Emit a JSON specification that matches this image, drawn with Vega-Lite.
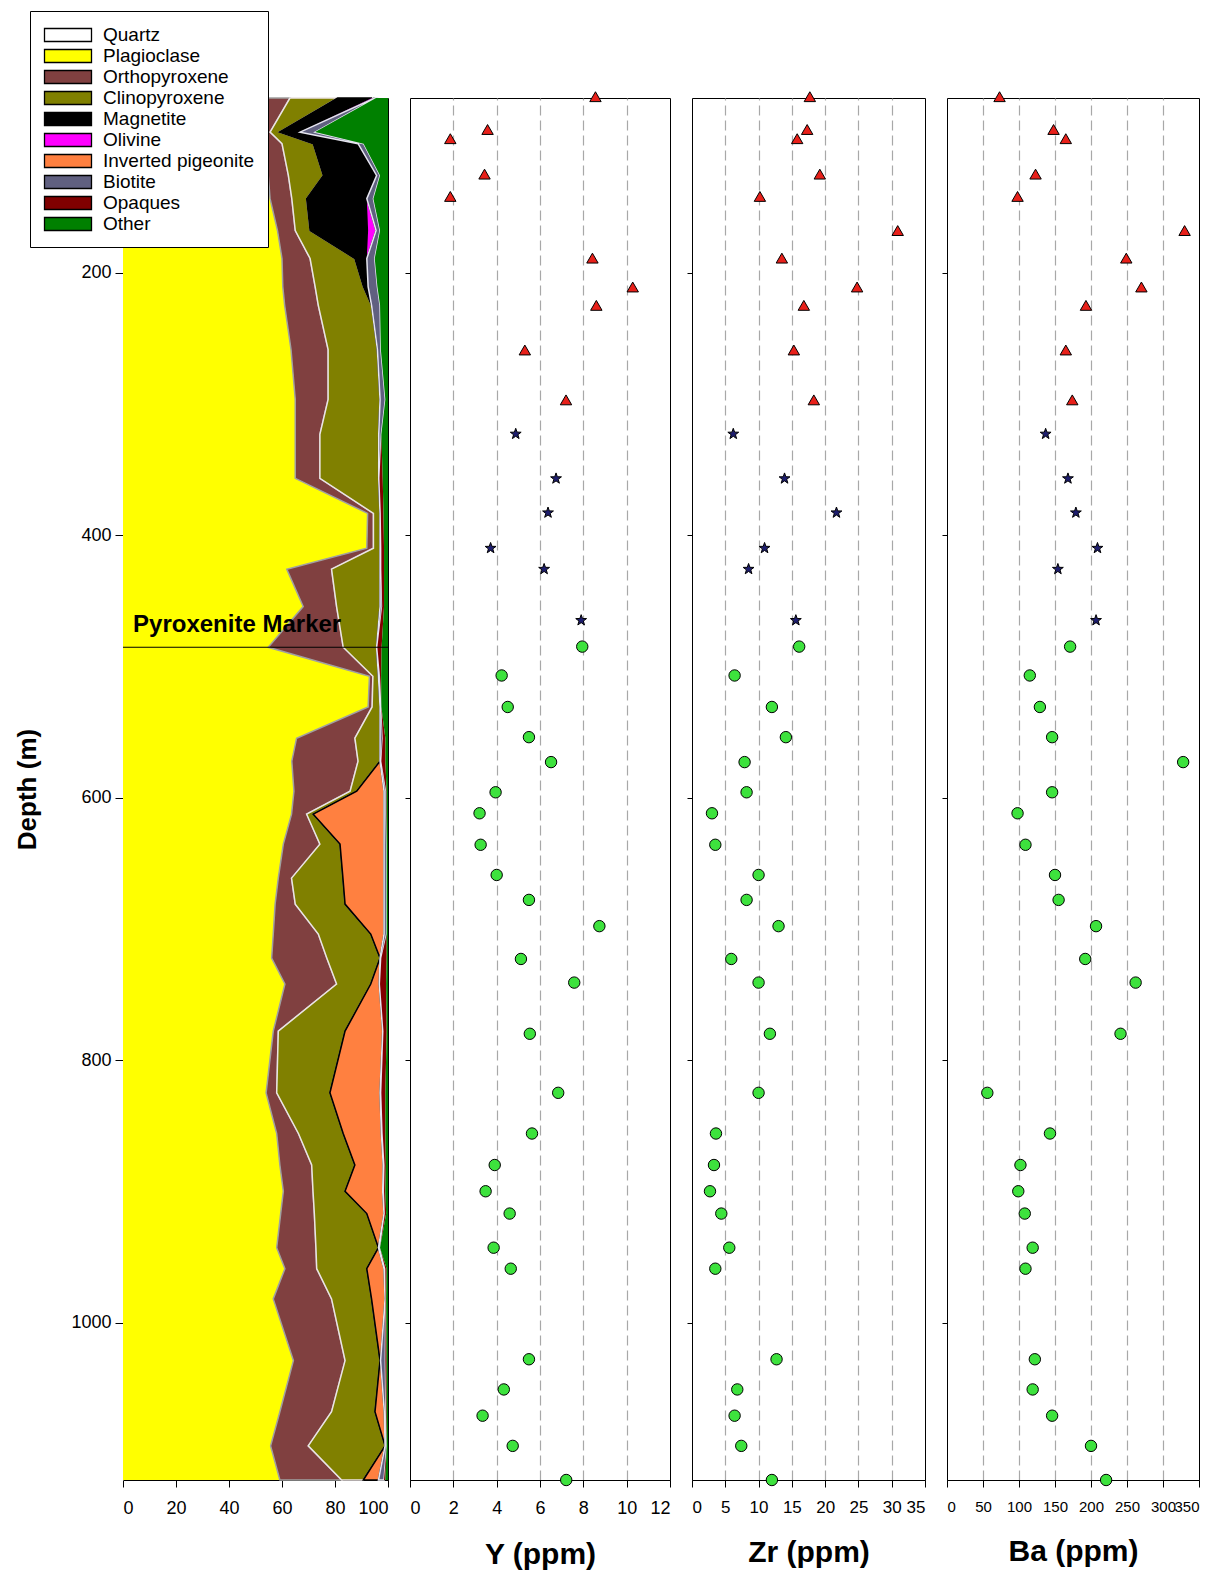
{
  "$schema": "https://vega.github.io/schema/vega-lite/v6.json",
  "padding": {"left": 14, "top": 10, "right": 5, "bottom": 5},
  "config": {
    "font": "Liberation Sans",
    "view": {"stroke": "black", "strokeWidth": 1},
    "axis": {
      "domainColor": "black", "tickColor": "black", "labelColor": "black", "titleColor": "black",
      "labelFont": "Liberation Sans", "labelFontSize": 18, "labelOverlap": false,
      "titleFont": "Liberation Sans", "titleFontWeight": "bold"
    }
  },
  "datasets": {
    "geochem": [
      {"d": 66, "Y": 8.56, "Zr": 17.7, "Ba": 73, "g": "t"},
      {"d": 91, "Y": 3.58, "Zr": 17.3, "Ba": 148, "g": "t"},
      {"d": 98, "Y": 1.86, "Zr": 15.8, "Ba": 165, "g": "t"},
      {"d": 125, "Y": 3.44, "Zr": 19.2, "Ba": 123, "g": "t"},
      {"d": 142, "Y": 1.86, "Zr": 10.2, "Ba": 98, "g": "t"},
      {"d": 168, "Y": null, "Zr": 30.9, "Ba": 330, "g": "t"},
      {"d": 189, "Y": 8.42, "Zr": 13.5, "Ba": 249, "g": "t"},
      {"d": 211, "Y": 10.28, "Zr": 24.8, "Ba": 270, "g": "t"},
      {"d": 225, "Y": 8.6, "Zr": 16.8, "Ba": 193, "g": "t"},
      {"d": 259, "Y": 5.3, "Zr": 15.3, "Ba": 165, "g": "t"},
      {"d": 297, "Y": 7.2, "Zr": 18.3, "Ba": 174, "g": "t"},
      {"d": 323, "Y": 4.88, "Zr": 6.2, "Ba": 137, "g": "s"},
      {"d": 357, "Y": 6.74, "Zr": 13.9, "Ba": 168, "g": "s"},
      {"d": 383, "Y": 6.37, "Zr": 21.7, "Ba": 179, "g": "s"},
      {"d": 410, "Y": 3.72, "Zr": 10.9, "Ba": 209, "g": "s"},
      {"d": 426, "Y": 6.19, "Zr": 8.5, "Ba": 154, "g": "s"},
      {"d": 465, "Y": 7.9, "Zr": 15.6, "Ba": 207, "g": "s"},
      {"d": 485, "Y": 7.95, "Zr": 16.1, "Ba": 171, "g": "c"},
      {"d": 507, "Y": 4.23, "Zr": 6.4, "Ba": 115, "g": "c"},
      {"d": 531, "Y": 4.51, "Zr": 12.0, "Ba": 129, "g": "c"},
      {"d": 554, "Y": 5.49, "Zr": 14.1, "Ba": 146, "g": "c"},
      {"d": 573, "Y": 6.51, "Zr": 7.9, "Ba": 328, "g": "c"},
      {"d": 596, "Y": 3.95, "Zr": 8.2, "Ba": 146, "g": "c"},
      {"d": 612, "Y": 3.21, "Zr": 3.0, "Ba": 98, "g": "c"},
      {"d": 636, "Y": 3.26, "Zr": 3.5, "Ba": 109, "g": "c"},
      {"d": 659, "Y": 4.0, "Zr": 10.0, "Ba": 150, "g": "c"},
      {"d": 678, "Y": 5.49, "Zr": 8.2, "Ba": 155, "g": "c"},
      {"d": 698, "Y": 8.74, "Zr": 13.0, "Ba": 207, "g": "c"},
      {"d": 723, "Y": 5.12, "Zr": 5.9, "Ba": 192, "g": "c"},
      {"d": 741, "Y": 7.58, "Zr": 10.0, "Ba": 262, "g": "c"},
      {"d": 780, "Y": 5.53, "Zr": 11.7, "Ba": 241, "g": "c"},
      {"d": 825, "Y": 6.84, "Zr": 10.0, "Ba": 56, "g": "c"},
      {"d": 856, "Y": 5.63, "Zr": 3.6, "Ba": 143, "g": "c"},
      {"d": 880, "Y": 3.91, "Zr": 3.3, "Ba": 102, "g": "c"},
      {"d": 900, "Y": 3.49, "Zr": 2.7, "Ba": 99, "g": "c"},
      {"d": 917, "Y": 4.6, "Zr": 4.4, "Ba": 108, "g": "c"},
      {"d": 943, "Y": 3.86, "Zr": 5.6, "Ba": 119, "g": "c"},
      {"d": 959, "Y": 4.65, "Zr": 3.5, "Ba": 109, "g": "c"},
      {"d": 1028, "Y": 5.49, "Zr": 12.7, "Ba": 122, "g": "c"},
      {"d": 1051, "Y": 4.33, "Zr": 6.8, "Ba": 119, "g": "c"},
      {"d": 1071, "Y": 3.35, "Zr": 6.4, "Ba": 146, "g": "c"},
      {"d": 1094, "Y": 4.74, "Zr": 7.4, "Ba": 200, "g": "c"},
      {"d": 1120, "Y": 7.21, "Zr": 12.0, "Ba": 221, "g": "c"}
    ],
    "mineralogy": [
      {"d": 67, "Plagioclase": 53.6, "Orthopyroxene": 9.4, "Clinopyroxene": 18, "Magnetite": 13, "Olivine": 1, "Inverted pigeonite": 0, "Biotite": 0.5, "Opaques": 0, "Other": 4.5},
      {"d": 93, "Plagioclase": 52.3, "Orthopyroxene": 3.2, "Clinopyroxene": 3.5, "Magnetite": 7.8, "Olivine": 0, "Inverted pigeonite": 0, "Biotite": 5.7, "Opaques": 0, "Other": 27.5},
      {"d": 101.8, "Plagioclase": 52.8, "Orthopyroxene": 7.2, "Clinopyroxene": 11.8, "Magnetite": 16.9, "Olivine": 0, "Inverted pigeonite": 0, "Biotite": 2.1, "Opaques": 0, "Other": 9.2},
      {"d": 126, "Plagioclase": 54.8, "Orthopyroxene": 7.6, "Clinopyroxene": 13.2, "Magnetite": 20.1, "Olivine": 0, "Inverted pigeonite": 0, "Biotite": 1.3, "Opaques": 0, "Other": 3},
      {"d": 143.7, "Plagioclase": 55.5, "Orthopyroxene": 8.2, "Clinopyroxene": 5.6, "Magnetite": 22.7, "Olivine": 0, "Inverted pigeonite": 0, "Biotite": 2.5, "Opaques": 0, "Other": 5.5},
      {"d": 168, "Plagioclase": 58.3, "Orthopyroxene": 6.7, "Clinopyroxene": 5.6, "Magnetite": 21.9, "Olivine": 3, "Inverted pigeonite": 0, "Biotite": 1.5, "Opaques": 0, "Other": 3},
      {"d": 189.3, "Plagioclase": 60, "Orthopyroxene": 10.6, "Clinopyroxene": 16.9, "Magnetite": 4.5, "Olivine": 0, "Inverted pigeonite": 0, "Biotite": 3, "Opaques": 0, "Other": 5},
      {"d": 210.7, "Plagioclase": 60.3, "Orthopyroxene": 12.2, "Clinopyroxene": 18.2, "Magnetite": 1.8, "Olivine": 0, "Inverted pigeonite": 0, "Biotite": 3.5, "Opaques": 0, "Other": 4},
      {"d": 225, "Plagioclase": 61, "Orthopyroxene": 12.7, "Clinopyroxene": 20.1, "Magnetite": 0, "Olivine": 0, "Inverted pigeonite": 0, "Biotite": 3.2, "Opaques": 0, "Other": 3},
      {"d": 258.6, "Plagioclase": 63.4, "Orthopyroxene": 14, "Clinopyroxene": 18.6, "Magnetite": 0, "Olivine": 0, "Inverted pigeonite": 0, "Biotite": 1.3, "Opaques": 0, "Other": 2.7},
      {"d": 296.7, "Plagioclase": 65, "Orthopyroxene": 12.4, "Clinopyroxene": 19.6, "Magnetite": 0, "Olivine": 0, "Inverted pigeonite": 0, "Biotite": 2, "Opaques": 0, "Other": 1},
      {"d": 323.3, "Plagioclase": 65, "Orthopyroxene": 9.3, "Clinopyroxene": 22.2, "Magnetite": 0, "Olivine": 0, "Inverted pigeonite": 0, "Biotite": 1, "Opaques": 0, "Other": 2.5},
      {"d": 356.8, "Plagioclase": 65, "Orthopyroxene": 9.3, "Clinopyroxene": 22.2, "Magnetite": 0, "Olivine": 0, "Inverted pigeonite": 0, "Biotite": 0.3, "Opaques": 1.2, "Other": 2},
      {"d": 383.5, "Plagioclase": 92.3, "Orthopyroxene": 2.2, "Clinopyroxene": 2.5, "Magnetite": 0, "Olivine": 0, "Inverted pigeonite": 0, "Biotite": 0.3, "Opaques": 1, "Other": 1.7},
      {"d": 410, "Plagioclase": 92, "Orthopyroxene": 2.5, "Clinopyroxene": 2.5, "Magnetite": 0, "Olivine": 0, "Inverted pigeonite": 0, "Biotite": 0.5, "Opaques": 1, "Other": 1.5},
      {"d": 426, "Plagioclase": 61.8, "Orthopyroxene": 16.9, "Clinopyroxene": 18.3, "Magnetite": 0, "Olivine": 0, "Inverted pigeonite": 0, "Biotite": 0.5, "Opaques": 1, "Other": 1.5},
      {"d": 454.5, "Plagioclase": 68, "Orthopyroxene": 12.6, "Clinopyroxene": 16.4, "Magnetite": 0, "Olivine": 0, "Inverted pigeonite": 0, "Biotite": 0.8, "Opaques": 0.7, "Other": 1.5},
      {"d": 485.5, "Plagioclase": 54.8, "Orthopyroxene": 28.3, "Clinopyroxene": 12.6, "Magnetite": 0, "Olivine": 0, "Inverted pigeonite": 0, "Biotite": 0.3, "Opaques": 1.6, "Other": 2.4},
      {"d": 507.6, "Plagioclase": 93, "Orthopyroxene": 1.3, "Clinopyroxene": 2.1, "Magnetite": 0, "Olivine": 0, "Inverted pigeonite": 0, "Biotite": 0.6, "Opaques": 0.4, "Other": 2.6},
      {"d": 531, "Plagioclase": 92.5, "Orthopyroxene": 1.5, "Clinopyroxene": 3, "Magnetite": 0, "Olivine": 0, "Inverted pigeonite": 0, "Biotite": 0.5, "Opaques": 0, "Other": 2.5},
      {"d": 554.8, "Plagioclase": 65.5, "Orthopyroxene": 22, "Clinopyroxene": 9.5, "Magnetite": 0, "Olivine": 0, "Inverted pigeonite": 0, "Biotite": 1, "Opaques": 1, "Other": 1},
      {"d": 572.3, "Plagioclase": 63.7, "Orthopyroxene": 25, "Clinopyroxene": 8.3, "Magnetite": 0, "Olivine": 0, "Inverted pigeonite": 0, "Biotite": 0.5, "Opaques": 1.5, "Other": 1},
      {"d": 595.2, "Plagioclase": 64.5, "Orthopyroxene": 21.2, "Clinopyroxene": 2.5, "Magnetite": 0, "Olivine": 0, "Inverted pigeonite": 10.3, "Biotite": 0.8, "Opaques": 0.2, "Other": 0.5},
      {"d": 612.7, "Plagioclase": 63.6, "Orthopyroxene": 5.7, "Clinopyroxene": 2.5, "Magnetite": 0, "Olivine": 0, "Inverted pigeonite": 26.7, "Biotite": 0.8, "Opaques": 0.2, "Other": 0.5},
      {"d": 635.5, "Plagioclase": 60.5, "Orthopyroxene": 13.8, "Clinopyroxene": 7.6, "Magnetite": 0, "Olivine": 0, "Inverted pigeonite": 16.6, "Biotite": 1, "Opaques": 0, "Other": 0.5},
      {"d": 661.4, "Plagioclase": 58.6, "Orthopyroxene": 5, "Clinopyroxene": 19.4, "Magnetite": 0, "Olivine": 0, "Inverted pigeonite": 15.5, "Biotite": 1, "Opaques": 0, "Other": 0.5},
      {"d": 681.2, "Plagioclase": 57.4, "Orthopyroxene": 7.6, "Clinopyroxene": 18.8, "Magnetite": 0, "Olivine": 0, "Inverted pigeonite": 14.7, "Biotite": 1, "Opaques": 0, "Other": 0.5},
      {"d": 704, "Plagioclase": 56.7, "Orthopyroxene": 17, "Clinopyroxene": 19.8, "Magnetite": 0, "Olivine": 0, "Inverted pigeonite": 5, "Biotite": 1, "Opaques": 0, "Other": 0.5},
      {"d": 722.3, "Plagioclase": 56.1, "Orthopyroxene": 20.8, "Clinopyroxene": 20.1, "Magnetite": 0, "Olivine": 0, "Inverted pigeonite": 0, "Biotite": 0.5, "Opaques": 2, "Other": 0.5},
      {"d": 742.1, "Plagioclase": 61.1, "Orthopyroxene": 19.5, "Clinopyroxene": 12.9, "Magnetite": 0, "Olivine": 0, "Inverted pigeonite": 3.2, "Biotite": 0.3, "Opaques": 2.3, "Other": 0.7},
      {"d": 778, "Plagioclase": 56.7, "Orthopyroxene": 1.9, "Clinopyroxene": 25.2, "Magnetite": 0, "Olivine": 0, "Inverted pigeonite": 14.2, "Biotite": 0.3, "Opaques": 1.2, "Other": 0.5},
      {"d": 825, "Plagioclase": 54, "Orthopyroxene": 4, "Clinopyroxene": 20.1, "Magnetite": 0, "Olivine": 0, "Inverted pigeonite": 18.9, "Biotite": 0.5, "Opaques": 1.5, "Other": 1},
      {"d": 856, "Plagioclase": 58, "Orthopyroxene": 8.2, "Clinopyroxene": 16.9, "Magnetite": 0, "Olivine": 0, "Inverted pigeonite": 14.4, "Biotite": 0.5, "Opaques": 1, "Other": 1},
      {"d": 880, "Plagioclase": 59.2, "Orthopyroxene": 12, "Clinopyroxene": 16.3, "Magnetite": 0, "Olivine": 0, "Inverted pigeonite": 10.7, "Biotite": 0.5, "Opaques": 0.5, "Other": 0.8},
      {"d": 900, "Plagioclase": 60.5, "Orthopyroxene": 11.2, "Clinopyroxene": 12.1, "Magnetite": 0, "Olivine": 0, "Inverted pigeonite": 14.2, "Biotite": 0.5, "Opaques": 0.5, "Other": 1},
      {"d": 917, "Plagioclase": 59.5, "Orthopyroxene": 12.7, "Clinopyroxene": 19.8, "Magnetite": 0, "Olivine": 0, "Inverted pigeonite": 6.5, "Biotite": 0.3, "Opaques": 0.5, "Other": 0.7},
      {"d": 943, "Plagioclase": 58, "Orthopyroxene": 14.8, "Clinopyroxene": 23.6, "Magnetite": 0, "Olivine": 0, "Inverted pigeonite": 0, "Biotite": 0.6, "Opaques": 0, "Other": 3},
      {"d": 959, "Plagioclase": 61.1, "Orthopyroxene": 12, "Clinopyroxene": 18.9, "Magnetite": 0, "Olivine": 0, "Inverted pigeonite": 6.5, "Biotite": 0.5, "Opaques": 0.5, "Other": 0.5},
      {"d": 982, "Plagioclase": 56.7, "Orthopyroxene": 22, "Clinopyroxene": 15.1, "Magnetite": 0, "Olivine": 0, "Inverted pigeonite": 5.1, "Biotite": 0.2, "Opaques": 0.2, "Other": 0.7},
      {"d": 1029, "Plagioclase": 64.3, "Orthopyroxene": 19.5, "Clinopyroxene": 13.2, "Magnetite": 0, "Olivine": 0, "Inverted pigeonite": 0.2, "Biotite": 1.8, "Opaques": 0.5, "Other": 0.5},
      {"d": 1068, "Plagioclase": 59.2, "Orthopyroxene": 19.5, "Clinopyroxene": 16.4, "Magnetite": 0, "Olivine": 0, "Inverted pigeonite": 3.5, "Biotite": 0.6, "Opaques": 0.3, "Other": 0.5},
      {"d": 1094, "Plagioclase": 55.7, "Orthopyroxene": 14.2, "Clinopyroxene": 29, "Magnetite": 0, "Olivine": 0, "Inverted pigeonite": 0, "Biotite": 0.6, "Opaques": 0, "Other": 0.5},
      {"d": 1120, "Plagioclase": 59.2, "Orthopyroxene": 23.3, "Clinopyroxene": 8.2, "Magnetite": 0, "Olivine": 0, "Inverted pigeonite": 5.7, "Biotite": 2.1, "Opaques": 0.5, "Other": 1}
    ]
  },
  "spacing": 22,
  "bounds": "flush",
  "resolve": {
    "scale": {"fill": "independent", "stroke": "independent"},
    "legend": {"fill": "independent", "stroke": "independent"}
  },
  "hconcat": [
    {
      "width": 265,
      "height": 1382,
      "layer": [
        {
          "data": {"name": "mineralogy"},
          "transform": [
            {"fold": ["Plagioclase", "Orthopyroxene", "Clinopyroxene", "Magnetite", "Olivine", "Inverted pigeonite", "Biotite", "Opaques", "Other"], "as": ["mineral", "pct"]},
            {"lookup": "mineral", "from": {"data": {"values": [
              {"mineral": "Plagioclase", "rank": 1, "line": "n"},
              {"mineral": "Orthopyroxene", "rank": 2, "line": "g"},
              {"mineral": "Clinopyroxene", "rank": 3, "line": "w"},
              {"mineral": "Magnetite", "rank": 4, "line": "k"},
              {"mineral": "Olivine", "rank": 5, "line": "n"},
              {"mineral": "Inverted pigeonite", "rank": 6, "line": "k"},
              {"mineral": "Biotite", "rank": 7, "line": "l"},
              {"mineral": "Opaques", "rank": 8, "line": "n"},
              {"mineral": "Other", "rank": 9, "line": "n"}
            ]}, "key": "mineral", "fields": ["rank", "line"]}}
          ],
          "mark": {"type": "area", "orient": "horizontal", "strokeWidth": 1.5, "opacity": 1},
          "encoding": {
            "y": {
              "field": "d", "type": "quantitative",
              "scale": {"domain": [67, 1120], "reverse": true, "nice": false, "zero": false},
              "axis": {
                "title": "Depth (m)", "titleFontSize": 26, "titlePadding": 30,
                "values": [200, 400, 600, 800, 1000], "format": "d",
                "labelFont": "Liberation Sans", "labelFontSize": 18, "labelPadding": 4,
                "tickSize": 8, "domainColor": "#b0b0b0", "grid": false
              }
            },
            "x": {
              "field": "pct", "type": "quantitative", "stack": "zero",
              "scale": {"domain": [0, 100], "nice": false},
              "axis": {"title": null, "values": [0, 20, 40, 60, 80, 100], "tickSize": 7, "labelPadding": 12, "grid": false}
            },
            "fill": {
              "field": "mineral", "type": "nominal",
              "scale": {
                "domain": ["Quartz", "Plagioclase", "Orthopyroxene", "Clinopyroxene", "Magnetite", "Olivine", "Inverted pigeonite", "Biotite", "Opaques", "Other"],
                "range": ["#ffffff", "#ffff00", "#804040", "#808000", "#000000", "#ff00ff", "#ff8040", "#606080", "#800000", "#008000"]
              },
              "legend": {
                "title": null, "orient": "none", "legendX": -93, "legendY": -87,
                "direction": "vertical",
                "symbolType": "M-2.35,-0.65H2.35V0.65H-2.35Z", "symbolSize": 400,
                "symbolOffset": 14,
                "symbolStrokeColor": "black", "symbolStrokeWidth": 1.3,
                "labelFont": "Liberation Sans", "labelFontSize": 19, "labelColor": "black",
                "labelOffset": 24, "labelLimit": 400, "rowPadding": 0,
                "strokeColor": "black", "fillColor": "white", "padding": 13
              }
            },
            "stroke": {
              "field": "line", "type": "nominal",
              "scale": {
                "domain": ["n", "g", "w", "k", "l"],
                "range": ["transparent", "#a0a0a0", "#ece4e4", "#000000", "#e6e6f0"]
              },
              "legend": null
            },
            "order": {"field": "rank", "type": "quantitative"}
          }
        },
        {
          "data": {"values": [{"d": 485.5}]},
          "mark": {"type": "rule", "color": "black", "strokeWidth": 1},
          "encoding": {"y": {"field": "d", "type": "quantitative"}}
        },
        {
          "data": {"values": [{"d": 485.5, "x": 3.8, "label": "Pyroxenite Marker"}]},
          "mark": {"type": "text", "align": "left", "baseline": "alphabetic", "dy": -15, "fontSize": 24, "fontWeight": "bold", "font": "Liberation Sans", "color": "black"},
          "encoding": {
            "y": {"field": "d", "type": "quantitative"},
            "x": {"field": "x", "type": "quantitative"},
            "text": {"field": "label"}
          }
        }
      ]
    },
    {
      "width": 260,
      "height": 1382,
      "data": {"name": "geochem"},
      "mark": {"type": "point", "filled": true, "stroke": "black", "strokeWidth": 1, "opacity": 1, "size": 130},
      "encoding": {
        "y": {
          "field": "d", "type": "quantitative",
          "scale": {"domain": [67, 1120], "reverse": true, "nice": false, "zero": false},
          "axis": {"title": null, "labels": false, "values": [200, 400, 600, 800, 1000], "tickSize": 5, "domain": false, "grid": false}
        },
        "x": {
          "field": "Y", "type": "quantitative",
          "scale": {"domain": [0, 12], "nice": false},
          "axis": {
            "title": "Y (ppm)", "titleFontSize": 30, "titlePadding": 22,
            "values": [0, 2, 4, 6, 8, 10, 12], "tickSize": 7, "labelPadding": 12,
            "grid": true, "gridDash": [10, 5], "gridColor": "#a8a8a8", "gridWidth": 1.2,
            "gridOpacity": {"condition": {"test": "datum.value <= 0 || datum.value >= 12", "value": 0}, "value": 1}
          }
        },
        "color": {"field": "g", "type": "nominal", "scale": {"domain": ["t", "s", "c"], "range": ["#e8201a", "#1e1e6e", "#3de23d"]}, "legend": null},
        "shape": {"field": "g", "type": "nominal", "scale": {"domain": ["t", "s", "c"], "range": ["triangle-up", "M0,-1L0.235,-0.324L0.951,-0.309L0.38,0.124L0.588,0.809L0,0.4L-0.588,0.809L-0.38,0.124L-0.951,-0.309L-0.235,-0.324Z", "circle"]}, "legend": null}
      }
    },
    {
      "width": 233,
      "height": 1382,
      "data": {"name": "geochem"},
      "mark": {"type": "point", "filled": true, "stroke": "black", "strokeWidth": 1, "opacity": 1, "size": 130},
      "encoding": {
        "y": {
          "field": "d", "type": "quantitative",
          "scale": {"domain": [67, 1120], "reverse": true, "nice": false, "zero": false},
          "axis": {"title": null, "labels": false, "values": [200, 400, 600, 800, 1000], "tickSize": 5, "domain": false, "grid": false}
        },
        "x": {
          "field": "Zr", "type": "quantitative",
          "scale": {"domain": [0, 35], "nice": false},
          "axis": {
            "title": "Zr (ppm)", "titleFontSize": 30, "titlePadding": 22,
            "values": [0, 5, 10, 15, 20, 25, 30, 35], "tickSize": 7, "labelPadding": 12, "labelFontSize": 17,
            "grid": true, "gridDash": [10, 5], "gridColor": "#a8a8a8", "gridWidth": 1.2,
            "gridOpacity": {"condition": {"test": "datum.value <= 0 || datum.value >= 35", "value": 0}, "value": 1}
          }
        },
        "color": {"field": "g", "type": "nominal", "scale": {"domain": ["t", "s", "c"], "range": ["#e8201a", "#1e1e6e", "#3de23d"]}, "legend": null},
        "shape": {"field": "g", "type": "nominal", "scale": {"domain": ["t", "s", "c"], "range": ["triangle-up", "M0,-1L0.235,-0.324L0.951,-0.309L0.38,0.124L0.588,0.809L0,0.4L-0.588,0.809L-0.38,0.124L-0.951,-0.309L-0.235,-0.324Z", "circle"]}, "legend": null}
      }
    },
    {
      "width": 252,
      "height": 1382,
      "data": {"name": "geochem"},
      "mark": {"type": "point", "filled": true, "stroke": "black", "strokeWidth": 1, "opacity": 1, "size": 130},
      "encoding": {
        "y": {
          "field": "d", "type": "quantitative",
          "scale": {"domain": [67, 1120], "reverse": true, "nice": false, "zero": false},
          "axis": {"title": null, "labels": false, "values": [200, 400, 600, 800, 1000], "tickSize": 5, "domain": false, "grid": false}
        },
        "x": {
          "field": "Ba", "type": "quantitative",
          "scale": {"domain": [0, 350], "nice": false},
          "axis": {
            "title": "Ba (ppm)", "titleFontSize": 30, "titlePadding": 22,
            "values": [0, 50, 100, 150, 200, 250, 300, 350], "tickSize": 7, "labelPadding": 12, "labelFontSize": 15,
            "grid": true, "gridDash": [10, 5], "gridColor": "#a8a8a8", "gridWidth": 1.2,
            "gridOpacity": {"condition": {"test": "datum.value <= 0 || datum.value >= 350", "value": 0}, "value": 1}
          }
        },
        "color": {"field": "g", "type": "nominal", "scale": {"domain": ["t", "s", "c"], "range": ["#e8201a", "#1e1e6e", "#3de23d"]}, "legend": null},
        "shape": {"field": "g", "type": "nominal", "scale": {"domain": ["t", "s", "c"], "range": ["triangle-up", "M0,-1L0.235,-0.324L0.951,-0.309L0.38,0.124L0.588,0.809L0,0.4L-0.588,0.809L-0.38,0.124L-0.951,-0.309L-0.235,-0.324Z", "circle"]}, "legend": null}
      }
    }
  ]
}
